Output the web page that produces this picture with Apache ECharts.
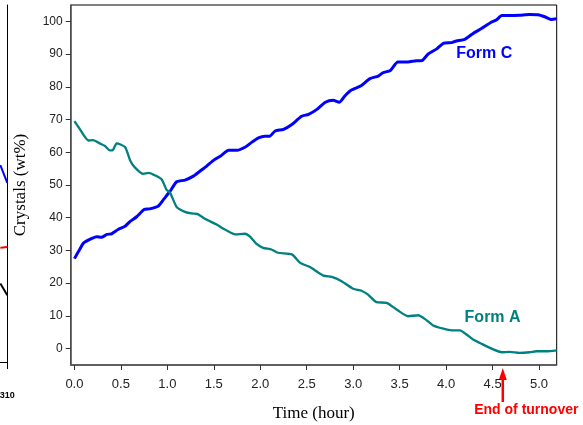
<!DOCTYPE html>
<html>
<head>
<meta charset="utf-8">
<script src="https://cdn.jsdelivr.net/npm/echarts@6/dist/echarts.min.js"></script>
<style>
html,body{margin:0;padding:0;background:#fff}
#main{width:583px;height:425px}
</style>
</head>
<body>
<div id="main"></div>
<script>
// Form C (blue)
var timeC = [0, 0.05, 0.10, 0.19, 0.24, 0.29, 0.35, 0.40, 0.47, 0.545, 0.60, 0.67, 0.75, 0.81, 0.90, 0.96,
  1.03, 1.10, 1.19, 1.28, 1.35, 1.42, 1.50, 1.57, 1.66, 1.75, 1.84, 1.91, 1.98, 2.05, 2.10, 2.16, 2.25,
  2.34, 2.445, 2.52, 2.61, 2.70, 2.785, 2.85, 2.91, 2.98, 3.09, 3.18, 3.27, 3.32, 3.40, 3.48, 3.59, 3.66,
  3.745, 3.81, 3.90, 3.97, 4.06, 4.11, 4.20, 4.29, 4.38, 4.49, 4.54, 4.60, 4.685, 4.79, 4.90, 4.99, 5.06,
  5.13, 5.19];
var formC = [27.5, 30.0, 32.3, 33.7, 34.2, 34.0, 34.9, 35.1, 36.4, 37.4, 38.9, 40.3, 42.5, 42.7, 43.5, 45.6,
  48.1, 51.0, 51.5, 52.7, 54.2, 55.7, 57.6, 58.8, 60.6, 60.6, 61.6, 63.1, 64.4, 64.9, 64.9, 66.5, 67.0,
  68.5, 71.0, 71.6, 73.1, 75.3, 75.9, 75.3, 77.2, 79.0, 80.4, 82.5, 83.3, 84.3, 85.0, 87.6, 87.6, 87.9,
  88.1, 90.1, 91.6, 93.3, 93.5, 94.0, 94.5, 96.3, 97.8, 99.8, 100.4, 101.8, 101.8, 101.9, 102.1, 102.0, 101.4,
  100.6, 100.8];

// Form A (teal)
var timeA = [0, 0.06, 0.15, 0.20, 0.28, 0.33, 0.38, 0.41, 0.455, 0.545, 0.60, 0.65, 0.74, 0.80, 0.87, 0.94,
  0.99, 1.03, 1.10, 1.19, 1.26, 1.32, 1.405, 1.53, 1.62, 1.73, 1.835, 1.89, 1.96, 2.03, 2.12, 2.19, 2.34,
  2.43, 2.53, 2.68, 2.77, 2.875, 3.0, 3.09, 3.16, 3.25, 3.36, 3.48, 3.59, 3.70, 3.77, 3.86, 3.97, 4.06,
  4.15, 4.22, 4.29, 4.38, 4.49, 4.60, 4.685, 4.79, 4.90, 4.97, 5.08, 5.19];
var formA = [69.5, 67.0, 63.6, 63.7, 62.6, 61.9, 60.6, 60.6, 62.7, 61.6, 57.5, 55.4, 53.4, 53.7, 52.9, 51.7,
  48.6, 47.6, 43.3, 41.8, 41.3, 41.2, 39.7, 37.9, 36.4, 34.9, 35.1, 34.2, 32.0, 30.8, 30.3, 29.3, 28.8,
  26.2, 25.0, 22.3, 21.9, 20.6, 18.3, 17.7, 16.5, 14.2, 14.0, 11.7, 9.9, 10.2, 9.1, 7.1, 6.1, 5.6,
  5.6, 4.3, 2.8, 1.5, 0.0, -1.1, -1.0, -1.3, -1.1, -0.8, -0.8, -0.5];

var xTicks = [0, 0.5, 1, 1.5, 2, 2.5, 3, 3.5, 4, 4.5, 5];
var yTicks = [0, 10, 20, 30, 40, 50, 60, 70, 80, 90, 100];

// edge of the neighbouring panel, cut off on the left
var prevTime = [0.935, 1.0];
var prevBlue = [55.7, 50.2];
var prevRed = [30.2, 30.4];
var prevBlack = [19.2, 15.6];
var prevTickText = '310';

var turnoverTime = 4.61;

function pairs(t, v) {
  return t.map(function (x, i) { return [x, v[i]]; });
}

var sans = 'Liberation Sans, Arial, sans-serif';
var serif = 'Liberation Serif, Times New Roman, serif';

var chart = echarts.init(document.getElementById('main'));
chart.setOption({
  animation: false,
  grid: [
    { left: 70.7, top: 5, right: 26.3, bottom: 60, show: true, borderColor: '#000', borderWidth: 1,
      outerBoundsMode: 'none' },
    { left: -100, top: 5, width: 107.3, bottom: 63, outerBoundsMode: 'none' }
  ],
  xAxis: [{
    type: 'value', gridIndex: 0, min: -0.04, max: 5.19,
    name: 'Time (hour)', nameLocation: 'middle', nameGap: 40,
    nameTextStyle: { fontFamily: serif, fontSize: 17, color: '#000' },
    splitLine: { show: false },
    axisLine: { onZero: false, lineStyle: { color: '#555', width: 1.5 } },
    axisTick: { customValues: xTicks, length: 5, lineStyle: { color: '#333' } },
    axisLabel: { customValues: xTicks, margin: 13, fontFamily: sans, fontSize: 13, color: '#222',
      formatter: function (v) { return v.toFixed(1); } }
  }, {
    type: 'value', gridIndex: 1, min: 0, max: 1,
    splitLine: { show: false },
    axisLine: { onZero: false, lineStyle: { color: '#000', width: 1 } },
    axisTick: { customValues: [1], length: 7, lineStyle: { color: '#000' } },
    axisLabel: { show: false }
  }],
  yAxis: [{
    type: 'value', gridIndex: 0, min: -5, max: 105,
    name: 'Crystals (wt%)', nameLocation: 'middle', nameGap: 42,
    nameTextStyle: { fontFamily: serif, fontSize: 17, color: '#000' },
    splitLine: { show: false },
    axisLine: { onZero: false, lineStyle: { color: '#555', width: 1.5 } },
    axisTick: { customValues: yTicks, length: 5, lineStyle: { color: '#333' } },
    axisLabel: { customValues: yTicks, margin: 8, fontFamily: sans, fontSize: 12, color: '#222' }
  }, {
    type: 'value', gridIndex: 1, min: -5, max: 105, position: 'right',
    splitLine: { show: false },
    axisLine: { show: true, onZero: false, lineStyle: { color: '#000', width: 1 } },
    axisTick: { show: false },
    axisLabel: { show: false }
  }],
  series: [{
    name: 'Form C', type: 'line', xAxisIndex: 0, yAxisIndex: 0,
    data: pairs(timeC, formC), showSymbol: false, smooth: 0.2,
    lineStyle: { color: '#0000ff', width: 3 }
  }, {
    name: 'Form A', type: 'line', xAxisIndex: 0, yAxisIndex: 0,
    data: pairs(timeA, formA), showSymbol: false, smooth: 0.2,
    lineStyle: { color: '#008080', width: 2.3 }
  }, {
    type: 'line', xAxisIndex: 1, yAxisIndex: 1, data: pairs(prevTime, prevBlue),
    showSymbol: false, lineStyle: { color: '#0000ff', width: 2 }
  }, {
    type: 'line', xAxisIndex: 1, yAxisIndex: 1, data: pairs(prevTime, prevRed),
    showSymbol: false, lineStyle: { color: '#ff0000', width: 2 }
  }, {
    type: 'line', xAxisIndex: 1, yAxisIndex: 1, data: pairs(prevTime, prevBlack),
    showSymbol: false, lineStyle: { color: '#000', width: 2 }
  }]
});

// annotations placed through the axes
var pC = chart.convertToPixel({ gridIndex: 0 }, [4.41, 90.2]);
var pA = chart.convertToPixel({ gridIndex: 0 }, [4.50, 9.6]);
var ax = chart.convertToPixel({ gridIndex: 0 }, [turnoverTime, -5]);
var px = chart.convertToPixel({ gridIndex: 1 }, [1, -5]);

chart.setOption({
  graphic: [
    { type: 'text', x: pC[0], y: pC[1], style: { text: 'Form C', fill: '#0000ff',
      font: 'bold 16px ' + sans, textAlign: 'center', textVerticalAlign: 'middle' } },
    { type: 'text', x: pA[0], y: pA[1], style: { text: 'Form A', fill: '#008080',
      font: 'bold 16px ' + sans, textAlign: 'center', textVerticalAlign: 'middle' } },
    { type: 'line', shape: { x1: ax[0], y1: ax[1] + 14, x2: ax[0], y2: ax[1] + 37 },
      style: { stroke: '#ff0000', lineWidth: 2.5 } },
    { type: 'polygon', shape: { points: [[ax[0], ax[1] + 3], [ax[0] - 4, ax[1] + 15], [ax[0] + 4, ax[1] + 15]] },
      style: { fill: '#ff0000' } },
    { type: 'text', x: ax[0] + 23.5, y: ax[1] + 45, style: { text: 'End of turnover', fill: '#ff0000',
      font: 'bold 14px ' + sans, textAlign: 'center', textVerticalAlign: 'middle' } },
    { type: 'text', x: px[0], y: px[1] + 34, style: { text: prevTickText, fill: '#000',
      font: 'bold 9px ' + sans, textAlign: 'center', textVerticalAlign: 'middle' } }
  ]
});
</script>
</body>
</html>
